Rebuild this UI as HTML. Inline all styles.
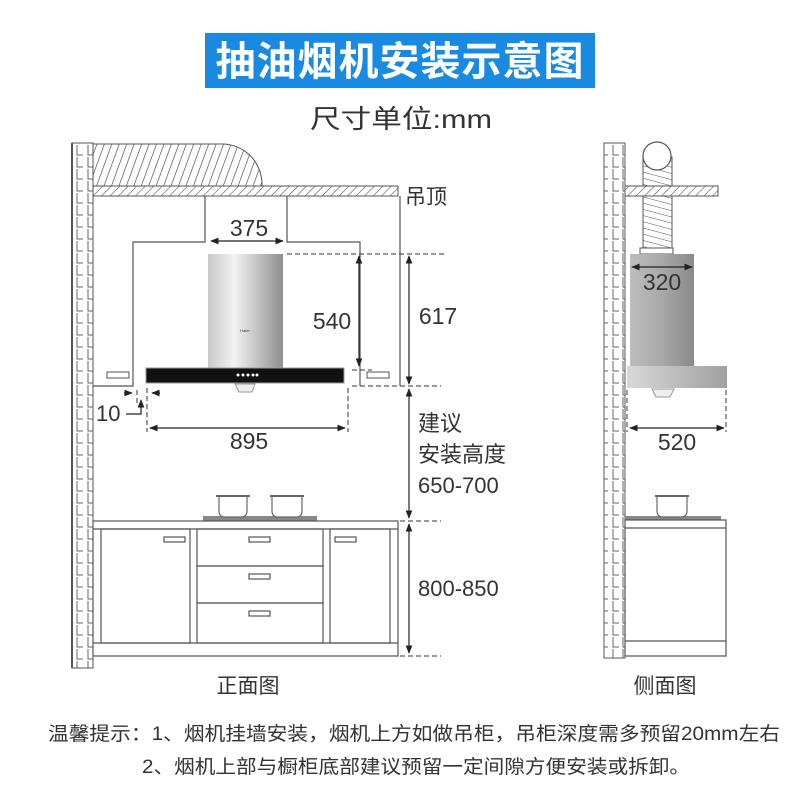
<!DOCTYPE html>
<html><head><meta charset="utf-8"><style>
html,body{margin:0;padding:0;background:#fff;width:800px;height:800px;overflow:hidden}
svg{display:block}
text{font-family:"Liberation Sans","Noto Sans CJK SC",sans-serif;fill:#333}
</style></head><body>
<svg width="800" height="800" viewBox="0 0 800 800" xmlns="http://www.w3.org/2000/svg">
<defs>
<pattern id="brick" width="21" height="12" patternUnits="userSpaceOnUse">
<rect width="21" height="12" fill="#fff"/>
<path d="M4 1V11H10M14 1V11H20" stroke="#666" stroke-width="1" fill="none"/>
</pattern>
<pattern id="hatch" width="6" height="6" patternUnits="userSpaceOnUse" patternTransform="rotate(45)">
<rect width="6" height="6" fill="#fff"/><line x1="0" y1="0" x2="0" y2="6" stroke="#555" stroke-width="1.2"/>
</pattern>
<pattern id="hatch2" width="7" height="7" patternUnits="userSpaceOnUse" patternTransform="rotate(20)">
<rect width="7" height="7" fill="#fff"/><line x1="0" y1="0" x2="0" y2="7" stroke="#444" stroke-width="1.3"/>
</pattern>
<pattern id="hatch3" width="6" height="6" patternUnits="userSpaceOnUse" patternTransform="rotate(-75)">
<rect width="6" height="6" fill="#fff"/><line x1="0" y1="0" x2="0" y2="6" stroke="#555" stroke-width="1"/>
</pattern>
<linearGradient id="steel" x1="0" x2="1" y1="0" y2="0">
<stop offset="0" stop-color="#c8c8c8"/><stop offset="0.35" stop-color="#f2f2f2"/><stop offset="1" stop-color="#8f8f8f"/>
</linearGradient>
<linearGradient id="steel2" x1="0" x2="1" y1="0" y2="0">
<stop offset="0" stop-color="#bdbdbd"/><stop offset="0.5" stop-color="#a8a8a8"/><stop offset="1" stop-color="#8a8a8a"/>
</linearGradient>
<linearGradient id="steel3" x1="0" x2="1" y1="0" y2="0">
<stop offset="0" stop-color="#d8d8d8"/><stop offset="1" stop-color="#a0a0a0"/>
</linearGradient>
<marker id="ar" viewBox="0 0 10 10" refX="9" refY="5" markerWidth="7" markerHeight="7" orient="auto-start-reverse">
<path d="M0 1L10 5L0 9z" fill="#222"/>
</marker>
</defs>

<rect x="205" y="33" width="390" height="55" fill="#1a8ae0"/>
<text x="400" y="75" text-anchor="middle" font-size="40" font-weight="bold" style="fill:#fff" letter-spacing="1">抽油烟机安装示意图</text>
<text x="310" y="128" font-size="26" textLength="182" lengthAdjust="spacingAndGlyphs">尺寸单位:mm</text>

<!-- FRONT VIEW -->
<rect x="72" y="143" width="21" height="525" fill="url(#brick)" stroke="#555"/>
<line x1="72" y1="143" x2="72" y2="668" stroke="#555" stroke-width="2"/>
<path d="M93 144H222A40 40 0 0 1 262 184V186H93Z" fill="url(#hatch2)" stroke="#555"/>
<rect x="93" y="186" width="305" height="10" fill="url(#hatch)" stroke="#555"/>
<path d="M93 386H133V242H205V196" fill="none" stroke="#555" stroke-width="1.2"/>
<path d="M287 196V242H360V386" fill="none" stroke="#555" stroke-width="1.2"/>
<line x1="400" y1="196" x2="400" y2="386" stroke="#555" stroke-width="1.2"/>
<rect x="107" y="372" width="22" height="6" fill="#fff" stroke="#555"/>
<rect x="367" y="372" width="22" height="6" fill="#fff" stroke="#555"/>
<rect x="208" y="254" width="75" height="114" fill="url(#steel)"/>
<text x="245" y="332" font-size="4" text-anchor="middle">Haier</text>
<rect x="146" y="368" width="198" height="15" fill="#111" stroke="#999"/>
<g fill="#fff"><circle cx="238" cy="375" r="1.5"/><circle cx="243" cy="375" r="1.5"/><circle cx="248" cy="375" r="1.5"/><circle cx="253" cy="375" r="1.5"/><circle cx="257" cy="375" r="1.5"/></g>
<path d="M235 384H255L252 392H239Z" fill="#eee" stroke="#999"/>
<g stroke="#333" stroke-dasharray="5,3" fill="none">
<line x1="287" y1="254" x2="447" y2="254"/>
<line x1="352" y1="386" x2="441" y2="386"/>
<line x1="352" y1="370" x2="372" y2="370"/>
<line x1="147" y1="388" x2="147" y2="432"/>
<line x1="348" y1="388" x2="348" y2="432"/>
<line x1="137" y1="390" x2="137" y2="404"/>
<line x1="400" y1="521" x2="441" y2="521"/>
<line x1="400" y1="656" x2="441" y2="656"/>
</g>
<g stroke="#222" stroke-width="1.2" fill="none">
<line x1="211" y1="241" x2="283" y2="241" marker-start="url(#ar)" marker-end="url(#ar)"/>
<line x1="359" y1="256" x2="359" y2="366" marker-start="url(#ar)" marker-end="url(#ar)"/>
<line x1="409" y1="256" x2="409" y2="384" marker-start="url(#ar)" marker-end="url(#ar)"/>
<line x1="150" y1="428" x2="345" y2="428" marker-start="url(#ar)" marker-end="url(#ar)"/>
<line x1="409" y1="389" x2="409" y2="518" marker-start="url(#ar)" marker-end="url(#ar)"/>
<line x1="409" y1="524" x2="409" y2="653" marker-start="url(#ar)" marker-end="url(#ar)"/>
<line x1="124" y1="393" x2="132" y2="393" marker-end="url(#ar)"/>
<line x1="160" y1="393" x2="152" y2="393" marker-end="url(#ar)"/>
<path d="M126 414H141V400" marker-end="url(#ar)"/>
</g>
<text x="249" y="236" font-size="23" text-anchor="middle">375</text>
<text x="332" y="329" font-size="23" text-anchor="middle">540</text>
<text x="438" y="324" font-size="23" text-anchor="middle">617</text>
<text x="249" y="449" font-size="23" text-anchor="middle">895</text>
<text x="96" y="421" font-size="22">10</text>
<text x="405" y="204" font-size="21">吊顶</text>
<text x="418" y="431" font-size="22">建议</text>
<text x="418" y="462" font-size="22">安装高度</text>
<text x="418" y="493" font-size="22">650-700</text>
<text x="418" y="596" font-size="22">800-850</text>
<rect x="203" y="516" width="114" height="5" fill="#888"/>
<g fill="#fff" stroke="#666" stroke-width="1.2">
<path d="M219 496H247V511Q247 517 241 517H225Q219 517 219 511Z"/>
<path d="M272 496H302V511Q302 517 296 517H278Q272 517 272 511Z"/>
</g>
<line x1="216" y1="496" x2="250" y2="496" stroke="#666" stroke-width="2"/>
<line x1="270" y1="496" x2="304" y2="496" stroke="#666" stroke-width="2"/>
<g fill="none" stroke="#555" stroke-width="1.2">
<rect x="93" y="521" width="305" height="135"/>
<line x1="93" y1="529" x2="398" y2="529"/>
<line x1="93" y1="643" x2="398" y2="643"/>
<rect x="101" y="529" width="89" height="114"/>
<rect x="197" y="529" width="126" height="37"/>
<rect x="197" y="566" width="126" height="37"/>
<rect x="197" y="603" width="126" height="40"/>
<rect x="330" y="529" width="60" height="114"/>
<rect x="164" y="537" width="21" height="5"/>
<rect x="249" y="537" width="21" height="5"/>
<rect x="249" y="574" width="21" height="5"/>
<rect x="249" y="611" width="21" height="5"/>
<rect x="335" y="537" width="21" height="5"/>
</g>
<text x="248" y="693" font-size="21" text-anchor="middle">正面图</text>

<!-- SIDE VIEW -->
<rect x="604" y="143" width="21" height="515" fill="url(#brick)" stroke="#555"/>
<rect x="643" y="157" width="29" height="91" fill="url(#hatch3)" stroke="#555"/>
<circle cx="657" cy="156" r="14" fill="#fff" stroke="#555" stroke-width="1.2"/>
<rect x="625" y="186" width="93" height="10" fill="url(#hatch)" stroke="#555"/>
<rect x="640" y="248" width="33" height="6" fill="#fff" stroke="#555"/>
<rect x="630" y="254" width="64" height="112" fill="url(#steel2)"/>
<rect x="627" y="366" width="100" height="22" fill="url(#steel3)"/>
<path d="M652 389H674L670 397H656Z" fill="#eee" stroke="#999"/>
<g stroke="#222" stroke-width="1.2" fill="none">
<line x1="632" y1="267" x2="692" y2="267" marker-start="url(#ar)" marker-end="url(#ar)"/>
<line x1="630" y1="428" x2="724" y2="428" marker-start="url(#ar)" marker-end="url(#ar)"/>
</g>
<g stroke="#333" stroke-dasharray="5,3">
<line x1="627" y1="390" x2="627" y2="432"/>
<line x1="726" y1="390" x2="726" y2="432"/>
</g>
<text x="662" y="290" font-size="23" text-anchor="middle">320</text>
<text x="677" y="450" font-size="23" text-anchor="middle">520</text>
<rect x="625" y="516" width="96" height="4" fill="#888"/>
<path d="M657 496H687V511Q687 517 681 517H663Q657 517 657 511Z" fill="#fff" stroke="#666" stroke-width="1.2"/>
<line x1="655" y1="496" x2="689" y2="496" stroke="#666" stroke-width="2"/>
<g fill="none" stroke="#555" stroke-width="1.2">
<rect x="625" y="520" width="101" height="136"/>
<line x1="625" y1="528" x2="726" y2="528"/>
<line x1="625" y1="641" x2="726" y2="641"/>
</g>
<text x="665" y="693" font-size="21" text-anchor="middle">侧面图</text>

<text x="48" y="740" font-size="19" textLength="732" lengthAdjust="spacingAndGlyphs">温馨提示：1、烟机挂墙安装，烟机上方如做吊柜，吊柜深度需多预留20mm左右</text>
<text x="142" y="773" font-size="19" textLength="548" lengthAdjust="spacingAndGlyphs">2、烟机上部与橱柜底部建议预留一定间隙方便安装或拆卸。</text>
</svg>
</body></html>
